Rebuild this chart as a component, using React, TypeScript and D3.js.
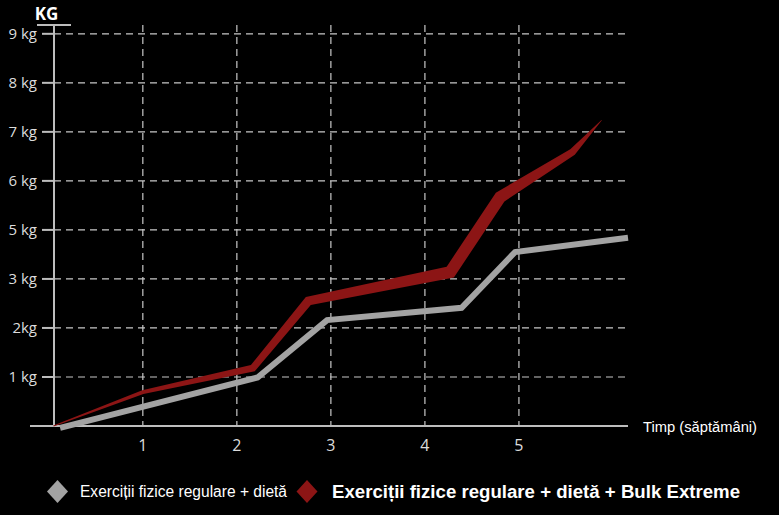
import React, { useRef, useEffect } from 'react';
import * as d3 from 'd3';

// weeks (x) and gain (y, in grid units)
const dietWeeks = [0.12, 2.22, 2.96, 4.39, 4.96, 6.16];
const dietGain = [-0.04, 0.99, 2.16, 2.41, 3.55, 3.84];

const bulkWeeks = [0.05, 1.0, 2.17, 2.76, 4.27, 4.8, 5.57, 5.88];
const bulkGain = [0, 0.69, 1.18, 2.55, 3.14, 4.67, 5.59, 6.24];

const xTicks = [1, 2, 3, 4, 5];
const yTicks = [1, 2, 3, 4, 5, 6, 7, 8];
const yTickLabels = ['1 kg', '2kg', '3 kg', '5 kg', '6 kg', '7 kg', '8 kg', '9 kg'];

const seriesNames = [
  'Exerciții fizice regulare + dietă',
  'Exerciții fizice regulare + dietă + Bulk Extreme',
];

// stroke thickness of the red ribbon at each point (style)
const bulkThickness = [1, 4, 7, 9, 12, 12, 7, 0.5];

const Chart: React.FC = () => {
  const ref = useRef<SVGSVGElement | null>(null);

  useEffect(() => {
    if (!ref.current) return;
    const svg = d3.select(ref.current);
    svg.selectAll('*').remove();

    const width = 779;
    const height = 515;
    const grey = '#a3a3a3';
    const red = '#8c1515';
    const axisColor = '#bdbdbd';

    const x = d3.scaleLinear().domain([-0.2, 6.16]).range([30, 628]);
    const y = d3.scaleLinear().domain([0, 8.18]).range([426, 25]);
    const x0 = 54;

    svg.attr('viewBox', [0, 0, width, height].join(' '))
      .attr('width', width)
      .attr('height', height)
      .style('position', 'absolute')
      .style('left', 0)
      .style('top', 0)
      .style('background', '#000');

    const grid = svg.append('g')
      .attr('stroke', '#c8c8c8')
      .attr('stroke-width', 1.2)
      .attr('stroke-dasharray', '7 5');

    grid.selectAll('line.h')
      .data(yTicks)
      .join('line')
      .attr('class', 'h')
      .attr('x1', x0)
      .attr('x2', x.range()[1])
      .attr('y1', d => y(d))
      .attr('y2', d => y(d));

    grid.selectAll('line.v')
      .data(xTicks)
      .join('line')
      .attr('class', 'v')
      .attr('x1', d => x(d))
      .attr('x2', d => x(d))
      .attr('y1', y.range()[1])
      .attr('y2', y(0));

    // axes
    const axes = svg.append('g').attr('stroke', axisColor).attr('stroke-width', 2);
    axes.append('line')
      .attr('x1', x.range()[0]).attr('x2', x.range()[1])
      .attr('y1', y(0)).attr('y2', y(0));
    axes.append('line')
      .attr('x1', x0).attr('x2', x0)
      .attr('y1', y.range()[1]).attr('y2', y(0));
    axes.append('line')
      .attr('x1', 37).attr('x2', 71)
      .attr('y1', y.range()[1]).attr('y2', y.range()[1]);
    axes.selectAll('line.tick')
      .data(yTicks)
      .join('line')
      .attr('class', 'tick')
      .attr('x1', 42).attr('x2', x0)
      .attr('y1', d => y(d)).attr('y2', d => y(d));

    svg.append('g')
      .attr('font-family', '"Open Sans", sans-serif')
      .attr('font-size', 15)
      .attr('fill', '#dcdcdc')
      .attr('text-anchor', 'end')
      .selectAll('text')
      .data(yTicks)
      .join('text')
      .attr('x', 37)
      .attr('y', d => y(d))
      .attr('dy', '0.35em')
      .text((d, i) => yTickLabels[i]);

    svg.append('g')
      .attr('font-family', '"Open Sans", sans-serif')
      .attr('font-size', 16)
      .attr('fill', '#dcdcdc')
      .attr('text-anchor', 'middle')
      .selectAll('text')
      .data(xTicks)
      .join('text')
      .attr('x', d => x(d))
      .attr('y', y(0) + 25)
      .text(d => d);

    svg.append('text')
      .attr('x', 46.5)
      .attr('y', 20)
      .attr('text-anchor', 'middle')
      .attr('font-family', '"Open Sans", sans-serif')
      .attr('font-weight', 'bold')
      .attr('font-size', 17)
      .attr('fill', '#fff')
      .text('KG');

    svg.append('text')
      .attr('x', 643)
      .attr('y', 432)
      .attr('font-family', '"Liberation Sans", Arial, sans-serif')
      .attr('font-size', 14)
      .attr('fill', '#fff')
      .attr('textLength', 114)
      .attr('lengthAdjust', 'spacingAndGlyphs')
      .text('Timp (săptămâni)');

    // grey series
    const line = d3.line<[number, number]>()
      .x(d => x(d[0]))
      .y(d => y(d[1]));

    svg.append('path')
      .datum(dietWeeks.map((w, i) => [w, dietGain[i]] as [number, number]))
      .attr('fill', 'none')
      .attr('stroke', grey)
      .attr('stroke-width', 6)
      .attr('stroke-linejoin', 'miter')
      .attr('d', line);

    // red series drawn as a ribbon of varying thickness
    const pts = bulkWeeks.map((w, i) => [x(w), y(bulkGain[i])]);
    const upper: [number, number][] = [];
    const lower: [number, number][] = [];
    pts.forEach((p, i) => {
      const segNormal = (a: number[], b: number[]) => {
        const dx = b[0] - a[0];
        const dy = b[1] - a[1];
        const len = Math.hypot(dx, dy);
        return [-dy / len, dx / len];
      };
      const ns: number[][] = [];
      if (i > 0) ns.push(segNormal(pts[i - 1], p));
      if (i < pts.length - 1) ns.push(segNormal(p, pts[i + 1]));
      let nx = d3.mean(ns, n => n[0]) as number;
      let ny = d3.mean(ns, n => n[1]) as number;
      const nl = Math.hypot(nx, ny);
      nx /= nl;
      ny /= nl;
      const miter = 1 / Math.max(0.5, nx * ns[0][0] + ny * ns[0][1]);
      const h = (bulkThickness[i] / 2) * miter;
      upper.push([p[0] + nx * h, p[1] + ny * h]);
      lower.push([p[0] - nx * h, p[1] - ny * h]);
    });

    svg.append('path')
      .attr('fill', red)
      .attr('d', d3.line()([...upper, ...lower.reverse()]) + 'Z');

    // legend
    const legend = svg.append('g');
    const diamond = (cx: number, cy: number) =>
      `M${cx},${cy - 11.5}L${cx + 10.5},${cy}L${cx},${cy + 11.5}L${cx - 10.5},${cy}Z`;

    legend.append('path').attr('d', diamond(57.5, 491.5)).attr('fill', grey);
    legend.append('text')
      .attr('x', 80)
      .attr('y', 497)
      .attr('font-family', '"Liberation Sans Narrow", "Liberation Sans", Arial, sans-serif')
      .attr('font-size', 16)
      .attr('fill', '#fff')
      .attr('textLength', 207)
      .attr('lengthAdjust', 'spacingAndGlyphs')
      .text(seriesNames[0]);

    legend.append('path').attr('d', diamond(307, 491.5)).attr('fill', red);
    legend.append('text')
      .attr('x', 332)
      .attr('y', 498)
      .attr('font-family', '"Liberation Sans Narrow", "Liberation Sans", Arial, sans-serif')
      .attr('font-weight', 'bold')
      .attr('font-size', 18)
      .attr('fill', '#fff')
      .attr('textLength', 408)
      .attr('lengthAdjust', 'spacingAndGlyphs')
      .text(seriesNames[1]);
  }, []);

  return <svg ref={ref} />;
};

export default function App() {
  return <Chart />;
}
